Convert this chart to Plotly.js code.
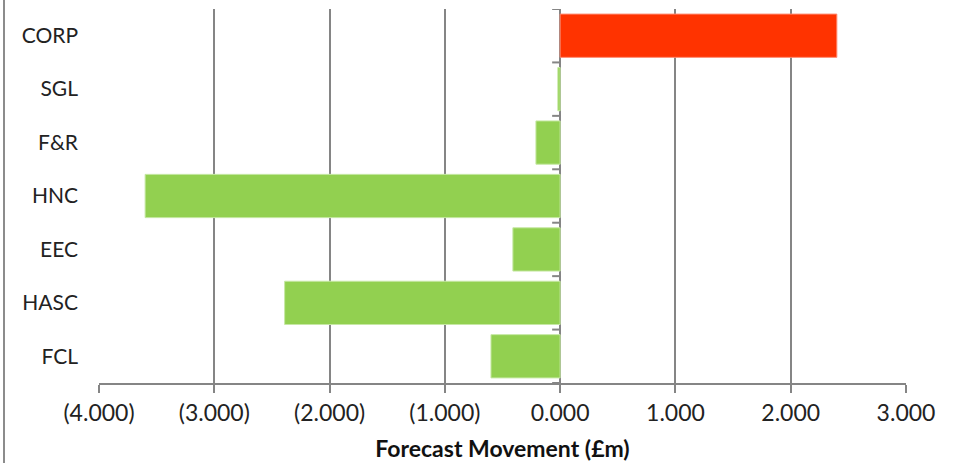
<!DOCTYPE html>
<html>
<head>
<meta charset="utf-8">
<script src="https://cdn.plot.ly/plotly-3.0.1.min.js"></script>
<style>
  html, body { margin: 0; padding: 0; background: #fff; }
  #wrap { position: relative; width: 960px; height: 463px; }
  #chart { width: 960px; height: 463px; }
  #frame { position: absolute; left: 3px; top: 0; width: 2px; height: 463px; background: #8c8c8c; }
</style>
</head>
<body>
<div id="wrap">
  <div id="chart"></div>
  <div id="frame"></div>
</div>
<script>
// Data (top to bottom)
const categories = ["CORP", "SGL", "F&R", "HNC", "EEC", "HASC", "FCL"];
const movement = [2.40, -0.02, -0.21, -3.60, -0.41, -2.39, -0.60];
const xTickVals = [-4, -3, -2, -1, 0, 1, 2, 3];
const xTickText = ["(4.000)", "(3.000)", "(2.000)", "(1.000)", "0.000", "1.000", "2.000", "3.000"];
const xTitle = "Forecast Movement (£m)";

const POS = "#FF3300", NEG = "#92D050";
const xRange = [-4, 3];
const gray = "#858585";
const font = "Lato, 'Open Sans', sans-serif";

const colors = movement.map(v => v > 0 ? POS : NEG);
const lineColors = movement.map(v => v > 0 ? "#ff8a70" : "#c6e8a4");

const trace = {
  type: "bar",
  orientation: "h",
  y: categories,
  x: movement,
  marker: { color: colors, line: { color: lineColors, width: 1 } },
  hoverinfo: "x+y"
};

// small tick marks on the vertical (zero) axis at category boundaries
const plotWidthPx = 960 - 99 - 54;
const tickLenData = 8 * (xRange[1] - xRange[0]) / plotWidthPx;
const boundaries = Array.from({ length: categories.length + 1 }, (_, i) => i - 0.5);
const tickShapes = boundaries.map(b => ({
  type: "line", layer: "above",
  xref: "x", yref: "y",
  x0: -tickLenData, x1: 0,
  y0: b, y1: b,
  line: { color: gray, width: 2 }
}));

const layout = {
  width: 960, height: 463,
  margin: { l: 99, r: 54, t: 9, b: 80 },
  paper_bgcolor: "#fff", plot_bgcolor: "#fff",
  bargap: 0.19,
  showlegend: false,
  font: { family: font, size: 22, color: "#222" },
  shapes: tickShapes,
  xaxis: {
    range: xRange,
    tickvals: xTickVals,
    ticktext: xTickText,
    showgrid: true, gridcolor: gray, gridwidth: 2,
    zeroline: true, zerolinecolor: gray, zerolinewidth: 2,
    showline: true, linecolor: gray, linewidth: 2,
    ticks: "outside", ticklen: 8, tickwidth: 2, tickcolor: gray,
    tickfont: { family: font, size: 23, color: "#222" },
    title: { text: "<b>" + xTitle + "</b>", font: { family: font, size: 23, color: "#111" }, standoff: 16 },
    fixedrange: true
  },
  yaxis: {
    type: "category",
    categoryorder: "array", categoryarray: categories,
    range: [categories.length - 0.5, -0.5],
    showgrid: false, zeroline: false, showline: false,
    ticks: "", ticklabelstandoff: 20,
    tickfont: { family: font, size: 21, color: "#222" },
    fixedrange: true
  }
};

Plotly.newPlot("chart", [trace], layout, { displayModeBar: false, staticPlot: true });
</script>
</body>
</html>
